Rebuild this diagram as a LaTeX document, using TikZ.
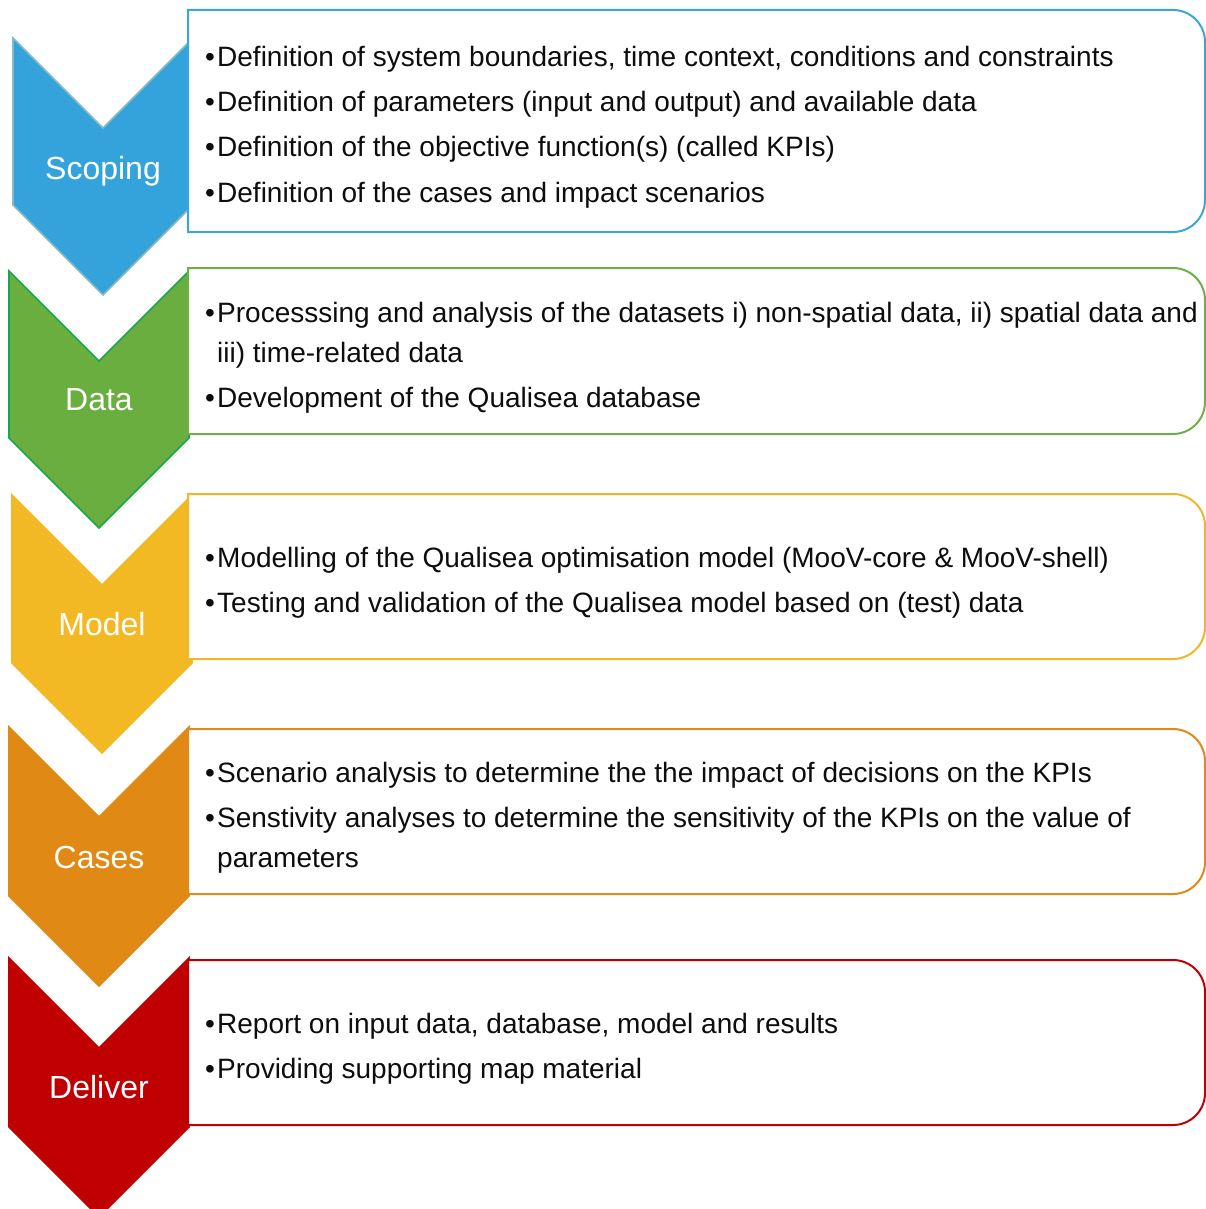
\documentclass[tikz,border=0pt]{standalone}
\usepackage{fontspec}
\setmainfont{Liberation Sans}
\definecolor{cBlue}{HTML}{34A3DB}
\definecolor{cBlueO}{HTML}{86BAC6}
\definecolor{cBlueB}{HTML}{3CA5DD}
\definecolor{cGreen}{HTML}{6AAE3F}
\definecolor{cGreenO}{HTML}{1AA64B}
\definecolor{cGreenB}{HTML}{6DB048}
\definecolor{cYellow}{HTML}{F2B924}
\definecolor{cYellowB}{HTML}{F0B72A}
\definecolor{cOrange}{HTML}{E08914}
\definecolor{cOrangeB}{HTML}{E08A17}
\definecolor{cRed}{HTML}{C00000}
\definecolor{cText}{HTML}{0D0D0D}
\newcommand\bul{\makebox[12pt][l]{\textbullet}}
\newcommand\rbox[4]{% x-left, top, bottom, colour
  \filldraw[boxline, draw=#4] (#1,#2) -- (1173,#2) arc[start angle=-90, end angle=0, radius=32]
    -- (1205,#3-32) arc[start angle=0, end angle=90, radius=32] -- (#1,#3) -- cycle;}
\begin{document}
\begin{tikzpicture}[x=1pt, y=-1pt,
  chev/.style={line width=1.6pt, line join=miter},
  boxline/.style={line width=2pt, fill=white},
  txt/.style={anchor=base west, inner sep=0pt, text=cText, font=\fontsize{28}{34}\selectfont},
  lbl/.style={anchor=base, inner sep=0pt, text=white, font=\fontsize{32}{38}\selectfont}]
\useasboundingbox (0,0) rectangle (1206,1209);
% chevrons
\filldraw[chev, fill=cBlue, draw=cBlueO] (13,38) -- (103,128) -- (193,38) -- (193,205) -- (103,295) -- (13,205) -- cycle;
\filldraw[chev, fill=cGreen, draw=cGreenO] (9,271) -- (99,361) -- (189,271) -- (189,438) -- (99,528) -- (9,438) -- cycle;
\filldraw[chev, fill=cYellow, draw=cYellow] (12,495) -- (102,585) -- (192,495) -- (192,663) -- (102,753) -- (12,663) -- cycle;
\filldraw[chev, fill=cOrange, draw=cOrange] (9,727) -- (99,817) -- (189,727) -- (189,896) -- (99,986) -- (9,896) -- cycle;
\filldraw[chev, fill=cRed, draw=cRed] (9,958) -- (99,1048) -- (189,958) -- (189,1127) -- (99,1217) -- (9,1127) -- cycle;
% boxes
\rbox{188}{10}{232}{cBlueB}
\rbox{188}{268}{434}{cGreenB}
\rbox{188}{494}{659}{cYellowB}
\rbox{188}{729}{894}{cOrangeB}
\rbox{188}{960}{1125}{cRed}
% labels
\node[lbl] (lScoping) at (103,179) {Scoping};
\node[lbl] (lData) at (99,410) {Data};
\node[lbl] (lModel) at (102,635) {Model};
\node[lbl] (lCases) at (99,868) {Cases};
\node[lbl] (lDeliver) at (99,1098) {Deliver};
% texts
\node[txt] (s1) at (205,67) {\bul Definition of system boundaries, time context, conditions and constraints};
\node[txt] (s2) at (205,112) {\bul Definition of parameters (input and output) and available data};
\node[txt] (s3) at (205,157) {\bul Definition of the objective function(s) (called KPIs)};
\node[txt] (s4) at (205,202) {\bul Definition of the cases and impact scenarios};
\node[txt] (d1) at (205,322) {\bul Processsing and analysis of the datasets i) non-spatial data, ii) spatial data and};
\node[txt] (d2) at (217,362) {iii) time-related data};
\node[txt] (d3) at (205,407) {\bul Development of the Qualisea database};
\node[txt] (m1) at (205,567) {\bul Modelling of the Qualisea optimisation model (MooV-core \& MooV-shell)};
\node[txt] (m2) at (205,612) {\bul Testing and validation of the Qualisea model based on (test) data};
\node[txt] (c1) at (205,782) {\bul Scenario analysis to determine the the impact of decisions on the KPIs};
\node[txt] (c2) at (205,827) {\bul Senstivity analyses to determine the sensitivity of the KPIs on the value of};
\node[txt] (c3) at (217,867) {parameters};
\node[txt] (r1) at (205,1033) {\bul Report on input data, database, model and results};
\node[txt] (r2) at (205,1078) {\bul Providing supporting map material};
\end{tikzpicture}
\end{document}
